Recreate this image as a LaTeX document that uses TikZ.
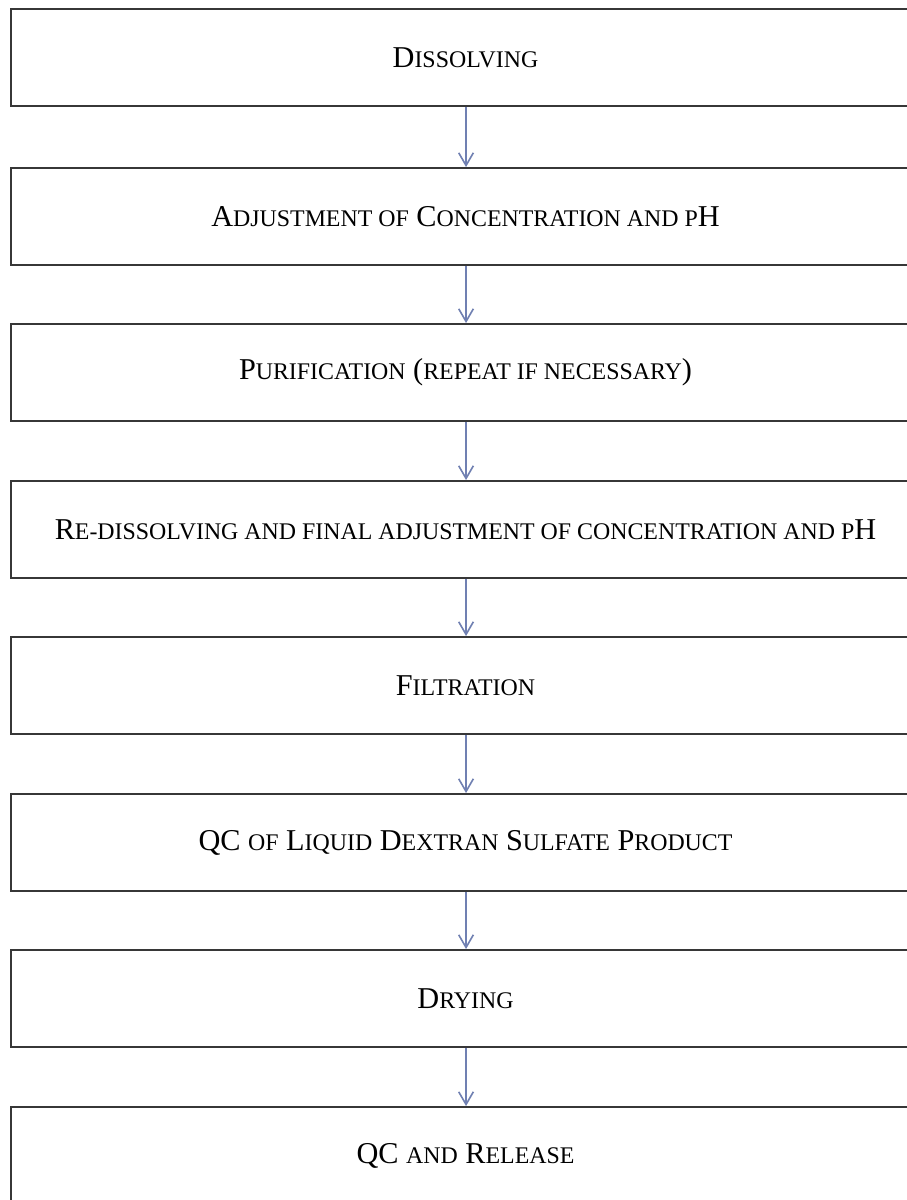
\documentclass[tikz,border=0pt]{standalone}
\usepackage{fontspec}
\setmainfont{Liberation Serif}
\usetikzlibrary{arrows.meta}
\definecolor{arrowblue}{RGB}{112,128,178}
\definecolor{boxline}{RGB}{55,55,55}
\newcommand{\sm}[1]{{\fontsize{17.9pt}{20pt}\selectfont #1}}
\begin{document}
\begin{tikzpicture}[x=0.75pt,y=-0.75pt,
  stepbox/.style={draw=boxline,line width=1.4pt,fill=white,minimum width=909*0.75pt,
    minimum height=97*0.75pt,inner sep=0pt,font=\fontsize{22.7pt}{24pt}\selectfont},
  flow/.style={draw=arrowblue,line width=1.2pt,-{Straight Barb[length=9.5pt,width=11pt,line width=1.2pt]}}]
\useasboundingbox (0,0) rectangle (907,1200);
\clip (0,0) rectangle (907,1200);
\fill[white] (0,0) rectangle (907,1200);
\node[stepbox] (b1) at (465.5,57.5) {D\sm{ISSOLVING}};
\node[stepbox] (b2) at (465.5,216.5) {A\sm{DJUSTMENT OF} C\sm{ONCENTRATION AND P}H};
\node[stepbox] (b3) at (465.5,372.5) {P\sm{URIFICATION} (\sm{REPEAT IF NECESSARY})};
\node[stepbox] (b4) at (465.5,529.5) {R\sm{E-DISSOLVING AND FINAL ADJUSTMENT OF CONCENTRATION AND P}H};
\node[stepbox] (b5) at (465.5,685.5) {F\sm{ILTRATION}};
\node[stepbox] (b6) at (465.5,842.5) {QC \sm{OF} L\sm{IQUID} D\sm{EXTRAN} S\sm{ULFATE} P\sm{RODUCT}};
\node[stepbox] (b7) at (465.5,998.5) {D\sm{RYING}};
\node[stepbox] (b8) at (465.5,1155.5) {QC \sm{AND} R\sm{ELEASE}};
\foreach \a/\b in {b1/b2,b2/b3,b3/b4,b4/b5,b5/b6,b6/b7,b7/b8}{
  \draw[flow] ([xshift=0.4pt]\a.south) -- ([xshift=0.4pt]\b.north);
}
\end{tikzpicture}
\end{document}
